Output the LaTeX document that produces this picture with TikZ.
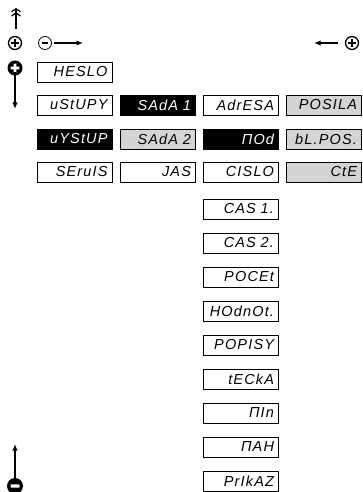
\documentclass[tikz,border=0pt]{standalone}
\usepackage{fontspec}
\usetikzlibrary{arrows.meta}
\newfontfamily\segfont[LetterSpace=8]{Liberation Sans}
\definecolor{panelgray}{gray}{0.83}
\begin{document}
\begin{tikzpicture}[x=1pt,y=-1pt,
  disp/.style={draw=black,line width=0.7pt,minimum height=20pt,
    text width=66pt,inner xsep=4.5pt,inner ysep=0pt,align=right,
    font=\segfont\itshape\fontsize{14.5}{14.5}\selectfont},
  wbox/.style={disp,fill=white,text=black},
  bbox/.style={disp,fill=black,text=white},
  gbox/.style={disp,fill=panelgray,text=black},
  keyplus/.style={circle,draw=black,line width=1.3pt,minimum size=13pt,inner sep=0pt,
    path picture={\draw[line width=1.8pt] ([xshift=-4pt]path picture bounding box.center) -- ([xshift=4pt]path picture bounding box.center)
      ([yshift=-4pt]path picture bounding box.center) -- ([yshift=4pt]path picture bounding box.center);}},
  keyminus/.style={circle,draw=black,line width=0.8pt,minimum size=13pt,inner sep=0pt,
    path picture={\fill ([xshift=-2.8pt,yshift=-1.1pt]path picture bounding box.center) rectangle ([xshift=2.8pt,yshift=1.1pt]path picture bounding box.center);}},
  solidplus/.style={circle,fill=black,minimum size=15pt,inner sep=0pt,
    path picture={\fill[white] ([xshift=-4.4pt,yshift=-1.4pt]path picture bounding box.center) rectangle ([xshift=4.4pt,yshift=1.4pt]path picture bounding box.center)
      ([xshift=-1.4pt,yshift=-4.4pt]path picture bounding box.center) rectangle ([xshift=1.4pt,yshift=4.4pt]path picture bounding box.center);}},
  solidminus/.style={circle,fill=black,minimum size=16pt,inner sep=0pt,
    path picture={\fill[white,rounded corners=0.6pt] ([xshift=-4.5pt,yshift=-1.6pt]path picture bounding box.center) rectangle ([xshift=4.5pt,yshift=1.6pt]path picture bounding box.center);}},
  flow/.style={line width=1.3pt,-{Latex[length=6.5pt,width=5.5pt]}},
  dflow/.style={line width=1.2pt,-{Straight Barb[length=3pt,width=9pt,line width=1.2pt] Straight Barb[length=3pt,width=9pt,line width=1.2pt]}}
]
\useasboundingbox (0,0) rectangle (362,492);

% navigation keys and arrows
\coordinate (dblfoot) at (16,29);
\coordinate (dblhead) at (16,8);
\draw[dflow] (dblfoot) -- (dblhead);

\node[keyplus] (plusL) at (15,43) {};
\node[keyminus] (minusL) at (45,43) {};
\coordinate (rightTip) at (83,43);
\draw[flow] ([xshift=2pt]minusL.east) -- (rightTip);

\node[keyplus] (plusR) at (352,43) {};
\coordinate (leftTip) at (314,43);
\draw[flow] ([xshift=-7pt]plusR.west) -- (leftTip);

\node[solidplus] (bigplus) at (15,68) {};
\coordinate (downTip) at (15,109);
\draw[flow] ([yshift=4pt]bigplus.south) -- (downTip);

\node[solidminus] (bigminus) at (15,486) {};
\coordinate (upTip) at (15,444);
\draw[flow] ([yshift=-5pt]bigminus.north) -- (upTip);

% menu column 1
\node[wbox] (heslo)  at (74.5,72)  {HESLO};
\node[wbox] (vstupy) at (74.5,105) {uStUPY};
\node[bbox] (vystup) at (74.5,139) {uYStUP};
\node[wbox] (servis) at (74.5,172) {SEruIS};

% menu column 2
\node[bbox] (sada1) at (158,105) {SAdA 1};
\node[gbox] (sada2) at (158,139) {SAdA 2};
\node[wbox] (jas)   at (158,172) {JAS};

% menu column 3
\node[wbox] (adresa) at (241,105) {AdrESA};
\node[bbox] (mod)    at (241,139) {ΠOd};
\node[wbox] (cislo)  at (241,172) {CISLO};
\node[wbox] (cas1)   at (241,209) {CAS 1.};
\node[wbox] (cas2)   at (241,243) {CAS 2.};
\node[wbox] (pocet)  at (241,277) {POCEt};
\node[wbox] (hodnot) at (241,311) {HOdnOt.};
\node[wbox] (popisy) at (241,345) {POPISY};
\node[wbox] (tecka)  at (241,379) {tECkA};
\node[wbox] (min)    at (241,413) {ΠIn};
\node[wbox] (max)    at (241,447) {ΠAH};
\node[wbox] (prikaz) at (241,481) {PrIkAZ};

% menu column 4
\node[gbox] (posila) at (324,105) {POSILA};
\node[gbox] (blpos)  at (324,139) {bL.POS.};
\node[gbox] (cte)    at (324,172) {CtE};
\end{tikzpicture}
\end{document}
